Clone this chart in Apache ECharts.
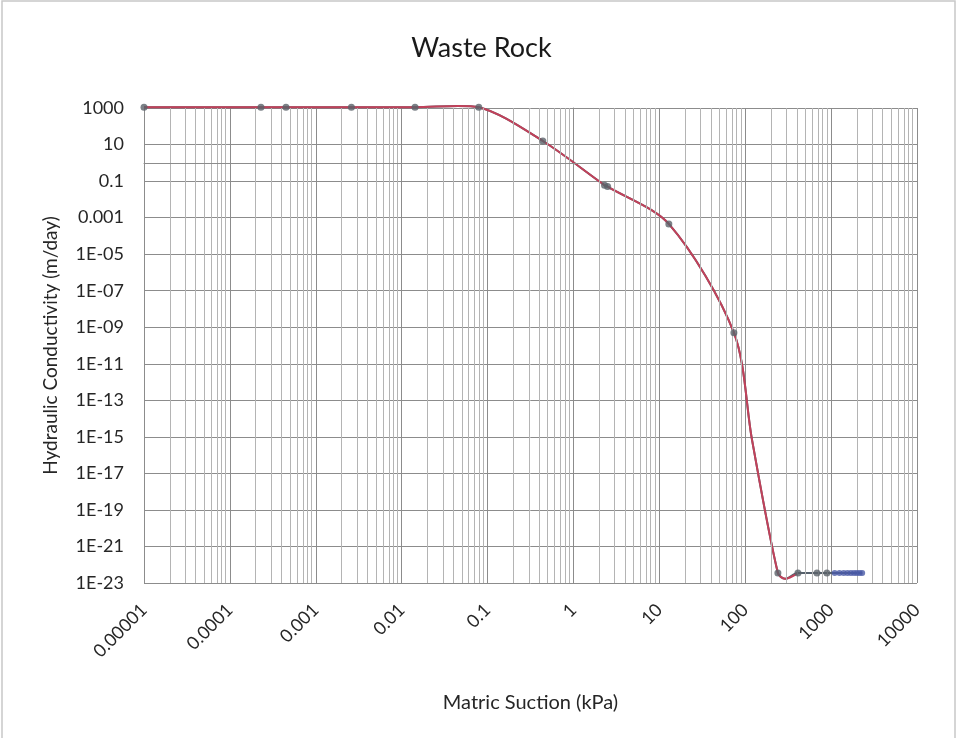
<!DOCTYPE html>
<html>
<head>
<meta charset="utf-8">
<script src="https://cdn.jsdelivr.net/npm/echarts@6/dist/echarts.min.js"></script>
<style>
html,body{margin:0;padding:0;background:#fff;}
#chart{width:963px;height:738px;}
</style>
</head>
<body>
<div id="chart"></div>
<script>
// ---- data ----
const pointSuction = [0.00001, 0.00023, 0.00045, 0.0026, 0.0143, 0.079, 0.44, 2.3, 2.5, 12.9, 73.8, 240, 411, 684, 893];
const pointK       = [1100, 1100, 1100, 1100, 1100, 1100, 15.6, 0.06, 0.05, 4.5e-4, 5e-10, 3.5e-23, 3.5e-23, 3.5e-23, 3.5e-23];

const curveSuction = [0.00001, 0.00023, 0.00045, 0.0026, 0.0143, 0.045, 0.079, 0.44, 2.3, 2.5, 12.9, 73.8, 120, 240, 290, 411];
const curveK       = [1100, 1100, 1100, 1100, 1100, 1300, 1100, 15.6, 0.06, 0.05, 4.5e-4, 5e-10, 6.8e-16, 3.5e-23, 1.7e-23, 3.5e-23];

const tailSuction = [1100, 1250, 1400, 1550, 1700, 1850, 2000, 2150, 2300];
const tailK       = [3.5e-23, 3.5e-23, 3.5e-23, 3.5e-23, 3.5e-23, 3.5e-23, 3.5e-23, 3.5e-23, 3.5e-23];

const xTickLabels = ["0.00001", "0.0001", "0.001", "0.01", "0.1", "1", "10", "100", "1000", "10000"];
const yTickLabels = ["1E-23", "1E-21", "1E-19", "1E-17", "1E-15", "1E-13", "1E-11", "1E-09", "1E-07", "1E-05", "0.001", "0.1", "10", "1000"];
const extraYGrid = [1];

// Both axes are value axes holding log10 of the data (ECharts' log axis cannot reach 1e-23),
// so every value is passed through log10 before being handed to the library's scale.
const L = Math.log10;
const zip = (a, b) => a.map((v, i) => [L(v), L(b[i])]);

// minor vertical grid lines (2..9 of each decade)
const minorX = [];
for (let e = -5; e < 4; e++) {
  for (let m = 2; m <= 9; m++) minorX.push(m * Math.pow(10, e));
}

const FONT = 'Lato, "Open Sans", sans-serif';
const TXT = '#262626';

const chart = echarts.init(document.getElementById('chart'));
chart.setOption({
  animation: false,
  backgroundColor: '#fff',
  title: {
    text: 'Waste Rock', left: 'center', top: 30,
    textStyle: { fontFamily: FONT, fontSize: 27, fontWeight: 'normal', color: '#1a1a1a' }
  },
  graphic: [{
    type: 'rect', shape: { x: 2, y: 1, width: 953, height: 745 },
    style: { fill: 'none', stroke: '#c8c8c8', lineWidth: 1.5 }, silent: true
  }],
  grid: { left: 144, right: 46, top: 108, bottom: 155 },
  xAxis: {
    type: 'value', min: -5, max: 4, interval: 1,
    name: 'Matric Suction (kPa)', nameLocation: 'middle', nameGap: 110,
    nameTextStyle: { fontFamily: FONT, fontSize: 20, color: TXT },
    axisLine: { show: true, lineStyle: { color: '#8c8c8c' } },
    axisTick: { show: false },
    axisLabel: {
      rotate: 45, margin: 24, fontFamily: FONT, fontSize: 18, color: TXT,
      formatter: (v, i) => xTickLabels[i]
    },
    splitLine: { show: true, lineStyle: { color: '#8c8c8c', width: 1 } }
  },
  yAxis: {
    type: 'value', min: -23, max: 3, interval: 2,
    name: 'Hydraulic Conductivity (m/day)', nameLocation: 'middle', nameGap: 84,
    nameTextStyle: { fontFamily: FONT, fontSize: 19, color: TXT },
    axisLine: { show: true, lineStyle: { color: '#8c8c8c' } },
    axisTick: { show: false },
    axisLabel: {
      margin: 20, fontFamily: FONT, fontSize: 18, color: TXT,
      formatter: (v, i) => yTickLabels[i]
    },
    splitLine: { show: true, lineStyle: { color: '#8c8c8c', width: 1 } }
  },
  series: [
    {
      type: 'line', name: 'grid', data: [], silent: true,
      markLine: {
        silent: true, symbol: 'none', label: { show: false },
        lineStyle: { color: '#b4b4b4', width: 1, type: 'solid' },
        data: minorX.map(v => ({ xAxis: L(v) })).concat(extraYGrid.map(v => ({ yAxis: L(v), lineStyle: { color: '#8c8c8c' } })))
      }
    },
    {
      type: 'line', name: 'measured line', clip: false,
      data: zip(curveSuction, curveK).concat(zip(pointSuction.slice(-2), pointK.slice(-2)), zip(tailSuction, tailK)),
      smooth: 0.3, showSymbol: false, lineStyle: { color: '#55606b', width: 2 }, z: 3
    },
    {
      type: 'line', name: 'fit', clip: false, data: zip(curveSuction, curveK),
      smooth: 0.3, showSymbol: false, lineStyle: { color: '#c2415a', width: 2 }, z: 4
    },
    {
      type: 'scatter', name: 'points', clip: false, data: zip(pointSuction, pointK),
      symbol: 'circle', symbolSize: 7, itemStyle: { color: '#5a6169' }, z: 5
    },
    {
      type: 'scatter', name: 'tail', clip: false, data: zip(tailSuction, tailK),
      symbol: 'circle', symbolSize: 6, itemStyle: { color: '#4a5aa6' }, z: 5
    }
  ]
});
</script>
</body>
</html>
